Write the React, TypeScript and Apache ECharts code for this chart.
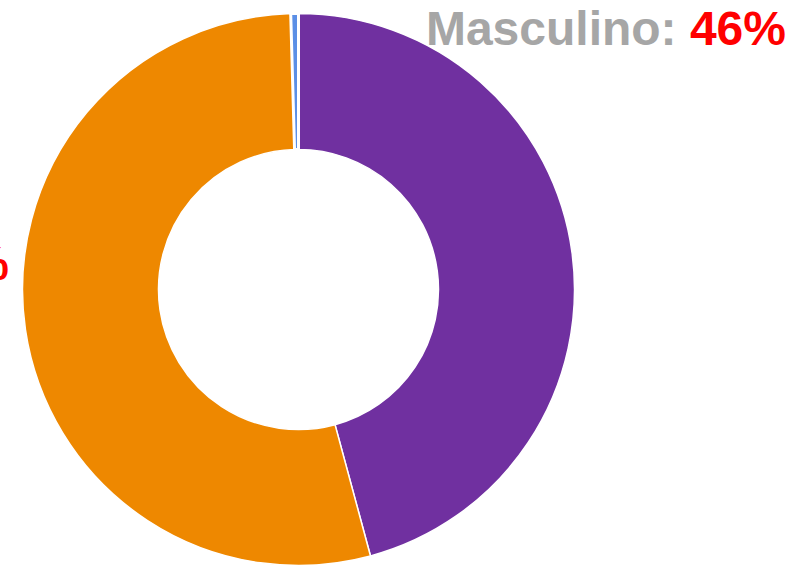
import React, { useEffect, useRef } from "react";
import * as echarts from "echarts";

const categories = ["Masculino", "Feminino", "Outro"];
const values = [45.8, 53.75, 0.45];
const colors = ["#7030A0", "#EE8800", "#5B8FE6"];

export default function App() {
  const ref = useRef<HTMLDivElement>(null);
  useEffect(() => {
    if (!ref.current) return;
    const chart = echarts.init(ref.current, null, { renderer: "svg" });
    const labelPos = [
      { x: 786, y: 28, align: "right" },
      { x: 9, y: 263, align: "right" },
    ];
    chart.setOption({
      animation: false,
      backgroundColor: "#ffffff",
      series: [
        {
          type: "pie",
          center: [298.5, 289.5],
          radius: [140, 276],
          startAngle: 90,
          clockwise: true,
          avoidLabelOverlap: false,
          percentPrecision: 0,
          silent: true,
          itemStyle: { borderColor: "#ffffff", borderWidth: 1.5 },
          label: {
            show: true,
            position: "outside",
            formatter: "{n|{b}: }{v|{d}%}",
            rich: {
              n: {
                color: "#A6A6A6",
                fontFamily: "Liberation Sans, Arial, sans-serif",
                fontWeight: "bold",
                fontSize: 48,
              },
              v: {
                color: "#FF0000",
                fontFamily: "Liberation Sans, Arial, sans-serif",
                fontWeight: "bold",
                fontSize: 48,
              },
            },
          },
          labelLine: { show: false },
          labelLayout: (params: any) => {
            const p = labelPos[params.dataIndex];
            if (!p) return {};
            return { x: p.x, y: p.y, align: p.align, verticalAlign: "middle" };
          },
          data: categories.map((c, i) => ({
            name: c,
            value: values[i],
            itemStyle:
              i === 2
                ? { color: colors[i], borderWidth: 3, borderColor: "#ffffff" }
                : { color: colors[i] },
            label: i === 2 ? { show: false } : undefined,
          })),
        },
      ],
    });
    return () => chart.dispose();
  }, []);
  return (
    <div
      ref={ref}
      style={{ position: "fixed", left: 0, top: 0, width: 794, height: 567 }}
    />
  );
}
